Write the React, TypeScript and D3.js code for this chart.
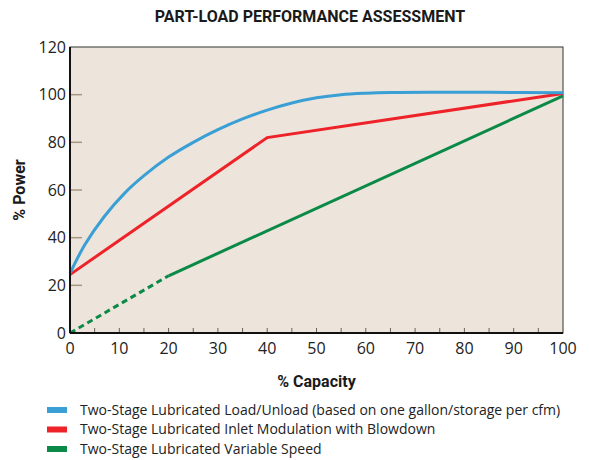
import React from 'react';
import * as d3 from 'd3';

const title = 'PART-LOAD PERFORMANCE ASSESSMENT';
const xTickLabels = [0, 10, 20, 30, 40, 50, 60, 70, 80, 90, 100];
const xMinorTicks = [5, 10, 15, 20, 25, 30, 35, 40, 45, 50, 55, 60, 65, 70, 75, 80, 85, 90, 95];
const yTickLabels = [0, 20, 40, 60, 80, 100, 120];
const yInnerTicks = [20, 40, 60, 80, 100];

// Load/Unload (blue)
const blueX = [0, 3, 7, 11, 15, 20, 25, 30, 35, 40, 45, 50, 55, 60, 65, 75, 85, 100];
const blueY = [25, 37, 49, 58.5, 66, 73.8, 80, 85.3, 89.8, 93.5, 96.5, 98.7, 100, 100.6, 100.9, 101, 101, 100.8];
// Inlet modulation (red)
const redX = [0, 40, 100];
const redY = [24.5, 82, 100.5];
// Variable speed (green), dashed below 20%
const greenDashX = [0, 20];
const greenDashY = [0, 24];
const greenX = [20, 100];
const greenY = [24, 99.5];

const legend = [
  { label: 'Two-Stage Lubricated Load/Unload (based on one gallon/storage per cfm)', color: '#3a9fd4' },
  { label: 'Two-Stage Lubricated Inlet Modulation with Blowdown', color: '#ee2229' },
  { label: 'Two-Stage Lubricated Variable Speed', color: '#0b8a47' },
];

const W = 589;
const H = 460;
const left = 70, right = 563, top = 47, bottom = 333;

export default function App() {
  const x = d3.scaleLinear().domain([0, 100]).range([left, right]);
  const y = d3.scaleLinear().domain([0, 120]).range([bottom, top]);

  const line = d3.line<[number, number]>().x(d => x(d[0])).y(d => y(d[1]));
  const smooth = d3.line<[number, number]>().x(d => x(d[0])).y(d => y(d[1])).curve(d3.curveCatmullRom.alpha(0.5));
  const zip = (a: number[], b: number[]) => a.map((v, i) => [v, b[i]] as [number, number]);

  const font = "'Open Sans', 'DejaVu Sans', sans-serif";

  return (
    <svg width={W} height={H} style={{ position: 'absolute', left: 0, top: 0, background: '#fff' }} fontFamily={font}>
      <text x={310} y={22} textAnchor="middle" fontSize={16} fontWeight="bold" fontFamily="Roboto, sans-serif" fill="#1a1a1a">
        {title}
      </text>

      <rect x={left} y={top} width={right - left} height={bottom - top} fill="#ede5dc" stroke="#333" strokeWidth={1} />

      {yInnerTicks.map(t => (
        <line key={'yt' + t} x1={left} x2={left + 12} y1={y(t)} y2={y(t)} stroke="#a39883" strokeWidth={1.5} />
      ))}
      {xMinorTicks.map(t => (
        <line key={'xt' + t} x1={x(t)} x2={x(t)} y1={bottom} y2={bottom - 5} stroke="#6b6254" strokeWidth={1} />
      ))}

      <path d={line(zip(greenDashX, greenDashY)) || ''} fill="none" stroke="#0b8a47" strokeWidth={3} strokeDasharray="6,4" />
      <path d={line(zip(greenX, greenY)) || ''} fill="none" stroke="#0b8a47" strokeWidth={3} />
      <path d={line(zip(redX, redY)) || ''} fill="none" stroke="#ee2229" strokeWidth={3} />
      <path d={smooth(zip(blueX, blueY)) || ''} fill="none" stroke="#3a9fd4" strokeWidth={3} />

      <line x1={left} x2={left} y1={top} y2={bottom} stroke="#111" strokeWidth={2} />
      <line x1={left} x2={right} y1={bottom} y2={bottom} stroke="#111" strokeWidth={2} />

      {yTickLabels.map(t => (
        <text key={'yl' + t} x={left - 4} y={y(t)} dy="0.35em" textAnchor="end" fontSize={16} fill="#222">
          {t}
        </text>
      ))}
      {xTickLabels.map(t => (
        <text key={'xl' + t} x={x(t)} y={bottom + 21} textAnchor="middle" fontSize={16} fill="#222">
          {t}
        </text>
      ))}

      <text transform={`translate(25,${(top + bottom) / 2}) rotate(-90)`} textAnchor="middle" fontSize={16} fontWeight="bold" fontFamily="Roboto, sans-serif" fill="#1a1a1a">
        % Power
      </text>
      <text x={(left + right) / 2} y={387} textAnchor="middle" fontSize={16} fontWeight="bold" fontFamily="Roboto, sans-serif" fill="#1a1a1a">
        % Capacity
      </text>

      {legend.map((d, i) => (
        <g key={d.label} transform={`translate(47,${410 + i * 19.5})`}>
          <rect x={0} y={-3} width={20} height={6} fill={d.color} />
          <text x={33} y={0} dy="0.35em" fontSize={14} fill="#222">
            {d.label}
          </text>
        </g>
      ))}
    </svg>
  );
}
